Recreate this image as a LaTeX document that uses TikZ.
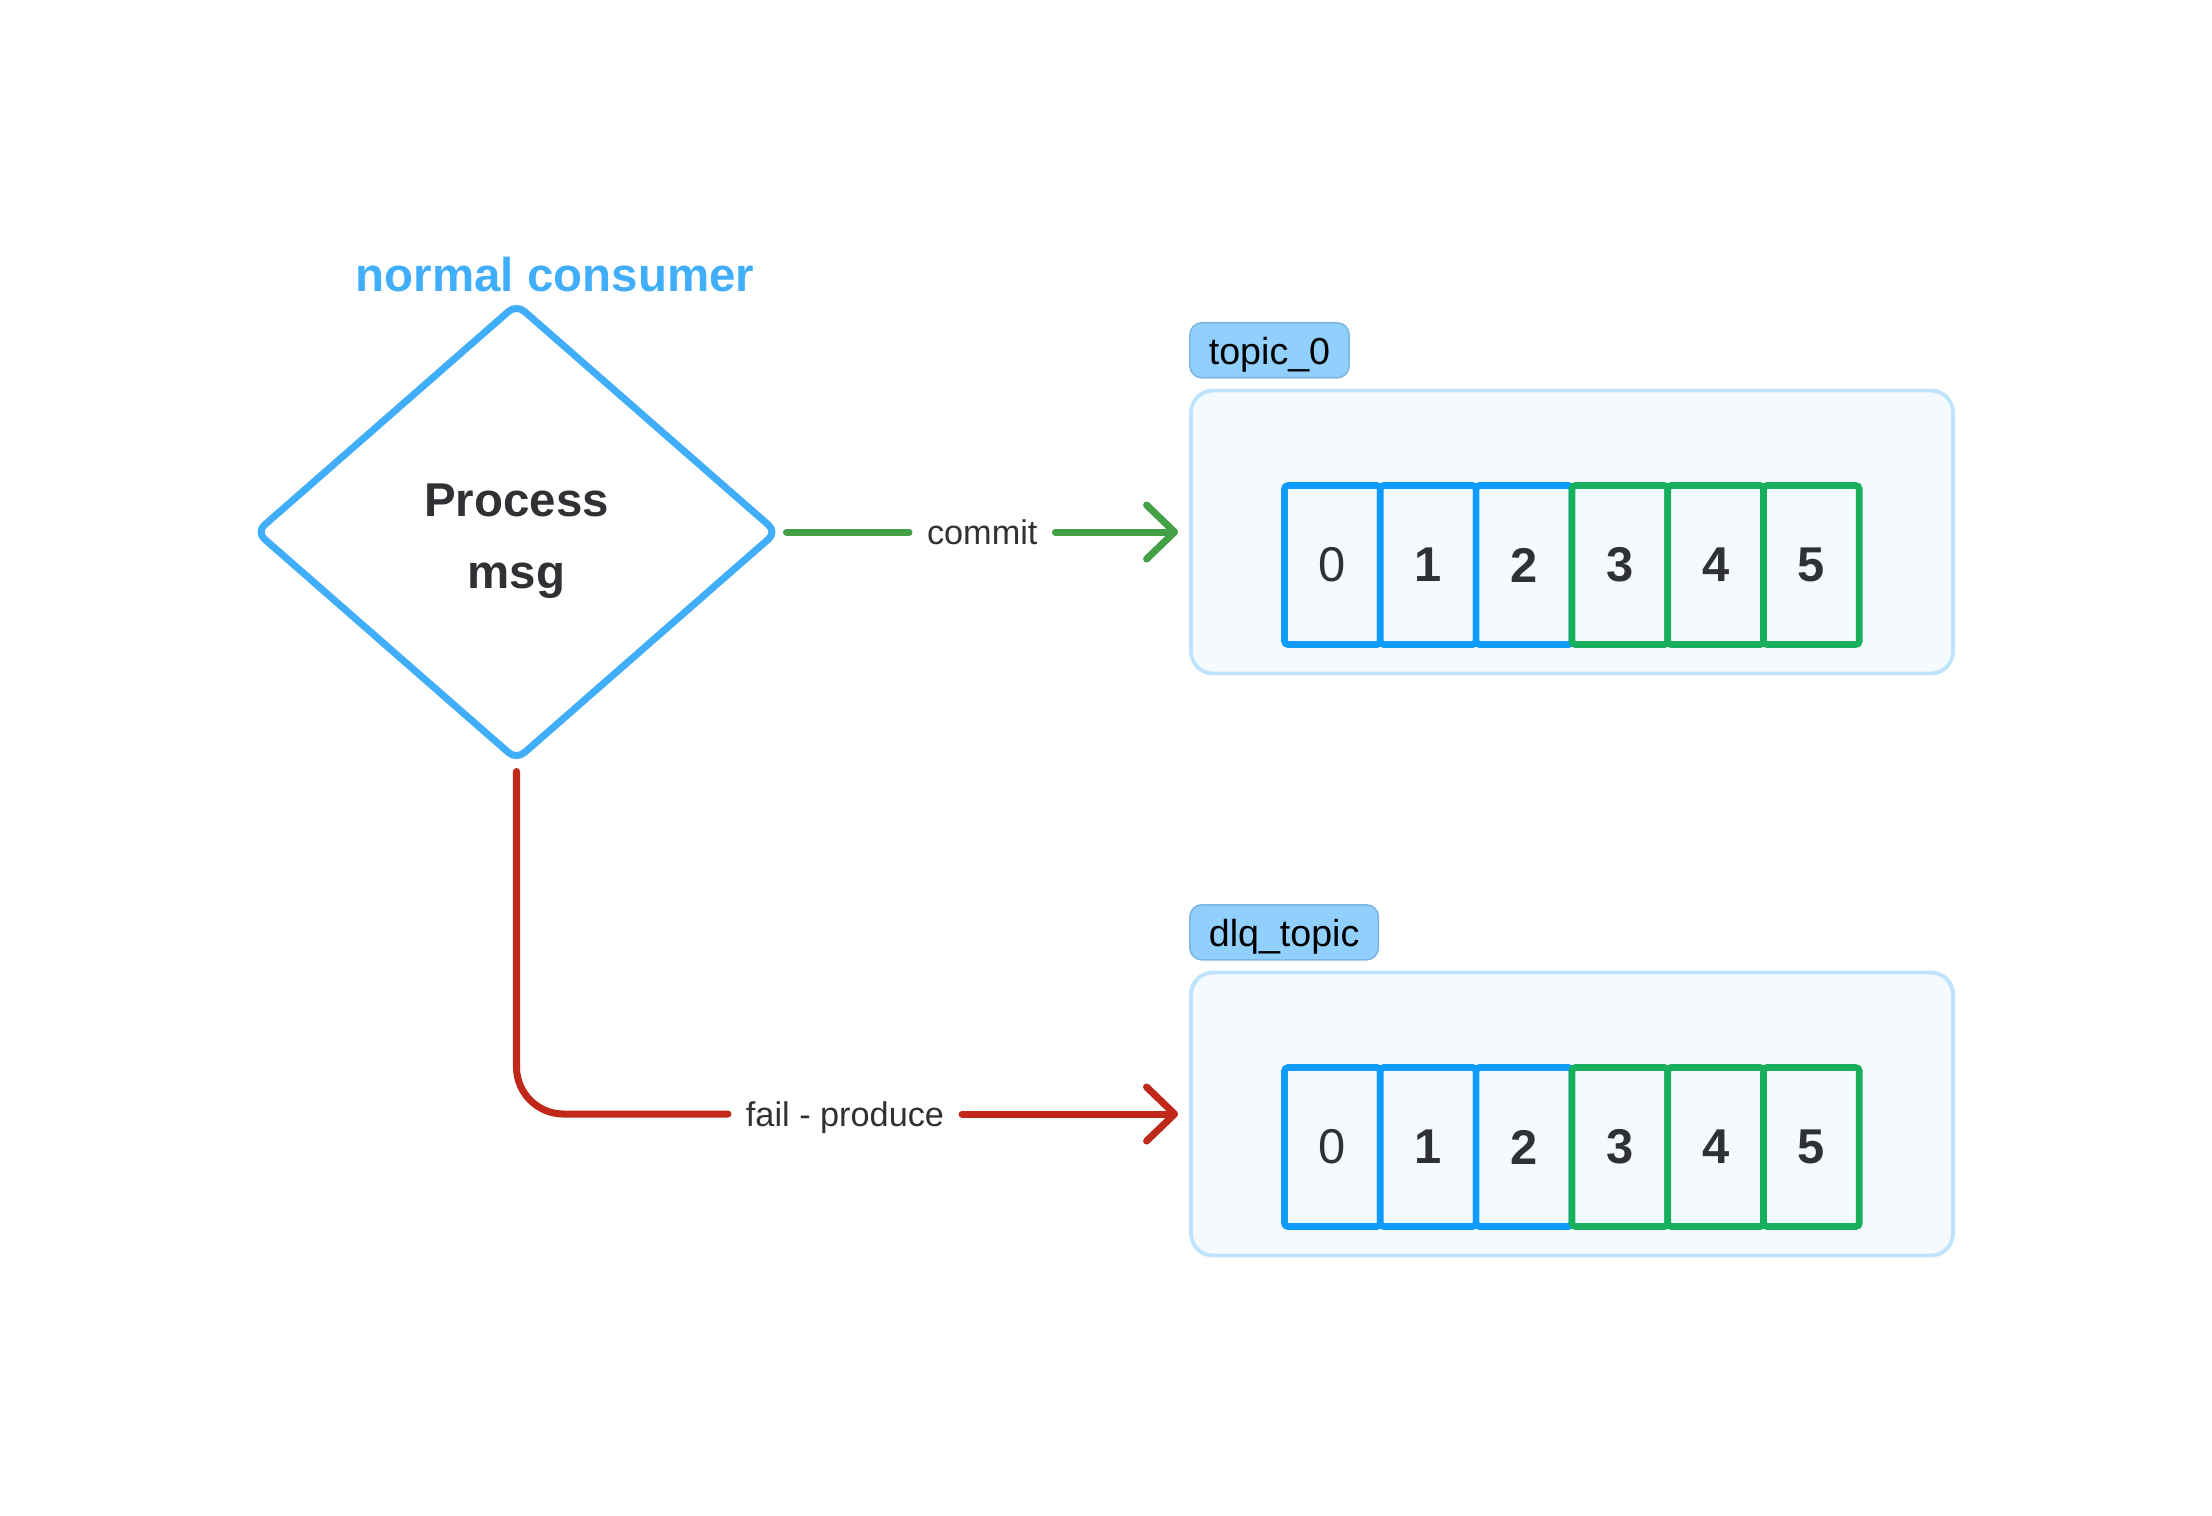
\documentclass[tikz,border=0pt]{standalone}
\usepackage{fontspec}
\setmainfont{Liberation Sans}
\usetikzlibrary{shapes, arrows.meta, positioning}

\definecolor{consumerblue}{RGB}{65,174,251}
\definecolor{cellblue}{RGB}{14,155,253}
\definecolor{cellgreen}{RGB}{23,175,92}
\definecolor{commitgreen}{RGB}{67,160,71}
\definecolor{failred}{RGB}{192,40,26}
\definecolor{boxfill}{RGB}{245,250,254}
\definecolor{boxline}{RGB}{191,227,253}
\definecolor{tagfill}{RGB}{145,207,253}
\definecolor{tagline}{RGB}{125,182,226}
\definecolor{darktext}{RGB}{48,49,52}

\begin{document}
\begin{tikzpicture}[
    node distance=1cm and 1cm,
    decision/.style={diamond, draw=consumerblue, line width=2pt, rounded corners=3pt,
    minimum width=5.23cm, minimum height=4.58cm, inner sep=0pt, align=center,
    text=darktext, font=\fontsize{13.5}{20.5}\selectfont\bfseries},
    heading/.style={inner sep=0pt, text=consumerblue, font=\fontsize{13.5}{16}\selectfont\bfseries},
    topicbox/.style={rectangle, draw=boxline, fill=boxfill, line width=1.1pt, rounded corners=0.22cm,
    minimum width=7.62cm, minimum height=2.83cm},
    topictag/.style={rectangle, draw=tagline, fill=tagfill, line width=0.45pt, rounded corners=0.12cm,
    minimum height=0.55cm, inner xsep=0.19cm, inner ysep=0pt, text height=0.9em, text depth=0.08em,
    font=\fontsize{10.7}{12}\selectfont},
    cellbox/.style={rectangle, line width=1.9pt, rounded corners=1pt, fill=boxfill,
    minimum width=0.958cm, minimum height=1.59cm, inner sep=0pt, outer sep=0pt,
    text=darktext, font=\fontsize{13.9}{16}\selectfont\bfseries},
    oldcell/.style={cellbox, draw=cellblue},
    newcell/.style={cellbox, draw=cellgreen},
    edgelabel/.style={inner xsep=0.18cm, inner ysep=0pt, outer sep=0pt, text=darktext,
    text height=0.7em, text depth=0pt, font=\fontsize{9.75}{11}\selectfont},
    flow/.style={line width=2pt, line cap=round},
    barb/.style={flow, -{Straight Barb[length=0.28cm, width=0.54cm, round]}, shorten >=0.11cm}
]
\useasboundingbox (0,0) rectangle (22.12,-15.15);

% Consumer
\node[decision] (proc) at (5.165,-5.32) {\strut Process\\msg};
\node[heading, above=0.07cm of proc.north, xshift=0.385cm] (consumer) {normal consumer};

% Topics
\node[topicbox] (topic) at (15.72,-5.32) {};
\node[topictag, above right=0.10cm and 0cm of topic.north west] (topictag) {topic\_0};
\node[oldcell] (tc0) at (13.324,-5.65) {\mdseries 0};
\node[oldcell, right=0pt of tc0] (tc1) {1};
\node[oldcell, right=0pt of tc1] (tc2) {2};
\node[newcell, right=0pt of tc2] (tc3) {3};
\node[newcell, right=0pt of tc3] (tc4) {4};
\node[newcell, right=0pt of tc4] (tc5) {5};

\node[topicbox] (dlq) at (15.72,-11.14) {};
\node[topictag, above right=0.10cm and 0cm of dlq.north west] (dlqtag) {dlq\_topic};
\node[oldcell] (dc0) at (13.324,-11.47) {\mdseries 0};
\node[oldcell, right=0pt of dc0] (dc1) {1};
\node[oldcell, right=0pt of dc1] (dc2) {2};
\node[newcell, right=0pt of dc2] (dc3) {3};
\node[newcell, right=0pt of dc3] (dc4) {4};
\node[newcell, right=0pt of dc4] (dc5) {5};

% Labels
\node[edgelabel, right=1.275cm of proc.east] (commitlbl) {commit};
\node[edgelabel, xshift=3.285cm] (faillbl) at (proc.south |- dlq.west) {fail - produce};

% Arrows
\draw[flow, commitgreen, shorten <=0.05cm] (proc.east) -- (commitlbl.west);
\draw[barb, commitgreen] (commitlbl.east) -- (topic.west);
\draw[flow, failred, rounded corners=0.47cm, shorten <=0.07cm] (proc.south) |- (faillbl.west);
\draw[barb, failred] (faillbl.east) -- (dlq.west);

\end{tikzpicture}
\end{document}
